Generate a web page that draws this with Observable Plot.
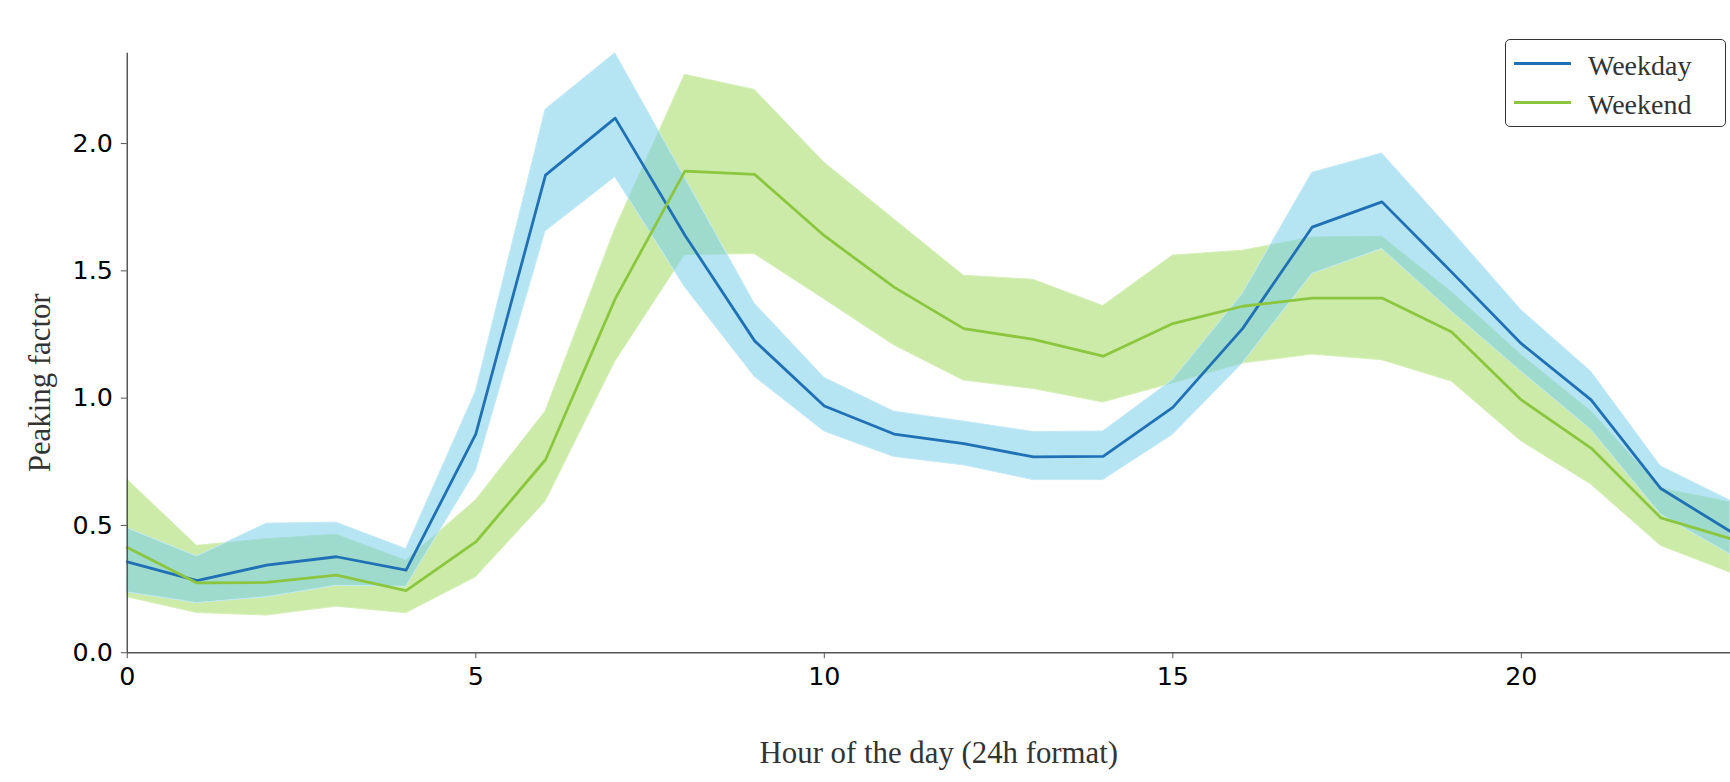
<!DOCTYPE html>
<html>
<head>
<meta charset="utf-8">
<script src="https://cdn.jsdelivr.net/npm/d3@7"></script>
<script src="https://cdn.jsdelivr.net/npm/@observablehq/plot@0.6"></script>
<style>
  html, body { margin: 0; padding: 0; background: #fff; overflow: hidden; }
  #wrap { position: relative; width: 1730px; height: 782px; overflow: hidden; background: #fff; }
  #legend { position: absolute; left: 1505px; top: 39px; width: 219px; height: 86px;
            border: 1.5px solid #333; border-radius: 5px; background: rgba(255,255,255,0.85);
            font-family: "Liberation Serif", serif; font-size: 28px; color: #333; }
  .sw { position: absolute; left: 8px; width: 57px; height: 3px; }
  .lab { position: absolute; left: 82px; white-space: nowrap; line-height: 1; }
</style>
</head>
<body>
<div id="wrap"></div>
<script>
// ---- data ----
const hours = [0, 1, 2, 3, 4, 5, 6, 7, 8, 9, 10, 11, 12, 13, 14, 15, 16, 17, 18, 19, 20, 21, 22, 23];

const weekdayMean = [0.357, 0.283, 0.344, 0.377, 0.324, 0.859, 1.876, 2.100, 1.640, 1.225, 0.969, 0.859,
                     0.821, 0.769, 0.771, 0.964, 1.273, 1.672, 1.771, 1.495, 1.214, 0.993, 0.645, 0.476];
const weekdayLow  = [0.237, 0.195, 0.218, 0.263, 0.259, 0.713, 1.655, 1.868, 1.436, 1.084, 0.869, 0.769,
                     0.736, 0.678, 0.678, 0.856, 1.136, 1.488, 1.586, 1.340, 1.104, 0.876, 0.543, 0.386];
const weekdayHigh = [0.489, 0.378, 0.507, 0.511, 0.407, 1.025, 2.133, 2.355, 1.866, 1.371, 1.080, 0.947,
                     0.908, 0.867, 0.869, 1.071, 1.409, 1.885, 1.961, 1.657, 1.345, 1.104, 0.732, 0.597];

const weekendMean = [0.413, 0.274, 0.276, 0.305, 0.244, 0.435, 0.758, 1.390, 1.892, 1.879, 1.638, 1.436,
                     1.273, 1.231, 1.165, 1.293, 1.361, 1.393, 1.393, 1.260, 0.993, 0.804, 0.530, 0.448];
const weekendLow  = [0.218, 0.156, 0.146, 0.181, 0.155, 0.296, 0.593, 1.143, 1.562, 1.566, 1.388, 1.208,
                     1.069, 1.036, 0.983, 1.058, 1.136, 1.171, 1.149, 1.065, 0.830, 0.661, 0.420, 0.314];
const weekendHigh = [0.680, 0.420, 0.446, 0.463, 0.361, 0.598, 0.947, 1.664, 2.270, 2.211, 1.925, 1.703,
                     1.481, 1.465, 1.362, 1.560, 1.579, 1.631, 1.634, 1.416, 1.169, 0.948, 0.645, 0.590];

const xTicks = [0, 5, 10, 15, 20];
const yTicks = [0, 0.5, 1.0, 1.5, 2.0];
const seriesNames = ["Weekday", "Weekend"];
const xLabel = "Hour of the day (24h format)";
const yLabel = "Peaking factor";

// ---- tables ----
const weekday = hours.map((h, i) => ({hour: h, mean: weekdayMean[i], low: weekdayLow[i], high: weekdayHigh[i]}));
const weekend = hours.map((h, i) => ({hour: h, mean: weekendMean[i], low: weekendLow[i], high: weekendHigh[i]}));

const blueLine = "#1f70b5", greenLine = "#8cc63e";

const chart = Plot.plot({
  width: 1740,
  height: 782,
  marginLeft: 127.5,
  marginRight: 0,
  marginTop: 53,
  marginBottom: 126,
  style: {fontFamily: "DejaVu Sans", background: "white", overflow: "visible"},
  x: {domain: [0, 23]},
  y: {domain: [0, 2.355]},
  marks: [
    Plot.areaY(weekend, {x: "hour", y1: "low", y2: "high", fill: "#cdeba8",
                         stroke: "#d6efb8", strokeWidth: 1}),
    Plot.areaY(weekday, {x: "hour", y1: "low", y2: "high", fill: "#78cee9", fillOpacity: 0.55,
                         stroke: "#c4eaf6", strokeWidth: 1}),
    Plot.lineY(weekday, {x: "hour", y: "mean", stroke: blueLine, strokeWidth: 2.8}),
    Plot.lineY(weekend, {x: "hour", y: "mean", stroke: greenLine, strokeWidth: 2.8}),
    Plot.ruleX([0], {stroke: "#555", strokeWidth: 1.5}),
    Plot.ruleY([0], {stroke: "#555", strokeWidth: 1.5}),
    Plot.axisX({ticks: xTicks, tickFormat: d => String(d), tickSize: 6, tickPadding: 8,
                fontSize: 25.5, label: null, stroke: "#555", fill: "black"}),
    Plot.axisY({ticks: yTicks, tickFormat: d3.format(".1f"), tickSize: 6, tickPadding: 8.5,
                fontSize: 25.5, label: null, stroke: "#555", fill: "black"}),
    Plot.text([yLabel], {text: d => d, frameAnchor: "left", rotate: -90, dx: -88, dy: 30,
                         fontSize: 31, fontFamily: "Liberation Serif", fill: "#333",
                         textAnchor: "middle", lineAnchor: "middle"}),
    Plot.text([xLabel], {text: d => d, frameAnchor: "bottom", dx: 10, dy: 101,
                         fontSize: 31, fontFamily: "Liberation Serif", fill: "#333",
                         textAnchor: "middle", lineAnchor: "middle"})
  ]
});

const wrap = document.getElementById("wrap");
wrap.appendChild(chart);

// ---- legend ----
const legend = document.createElement("div");
legend.id = "legend";
const colors = [blueLine, greenLine];
const rowsY = [23, 62];
seriesNames.forEach((name, i) => {
  const sw = document.createElement("div");
  sw.className = "sw";
  sw.style.top = (rowsY[i] - 1.5) + "px";
  sw.style.background = colors[i];
  legend.appendChild(sw);
  const lab = document.createElement("div");
  lab.className = "lab";
  lab.style.top = (rowsY[i] - 11) + "px";
  lab.textContent = name;
  legend.appendChild(lab);
});
wrap.appendChild(legend);
</script>
</body>
</html>
